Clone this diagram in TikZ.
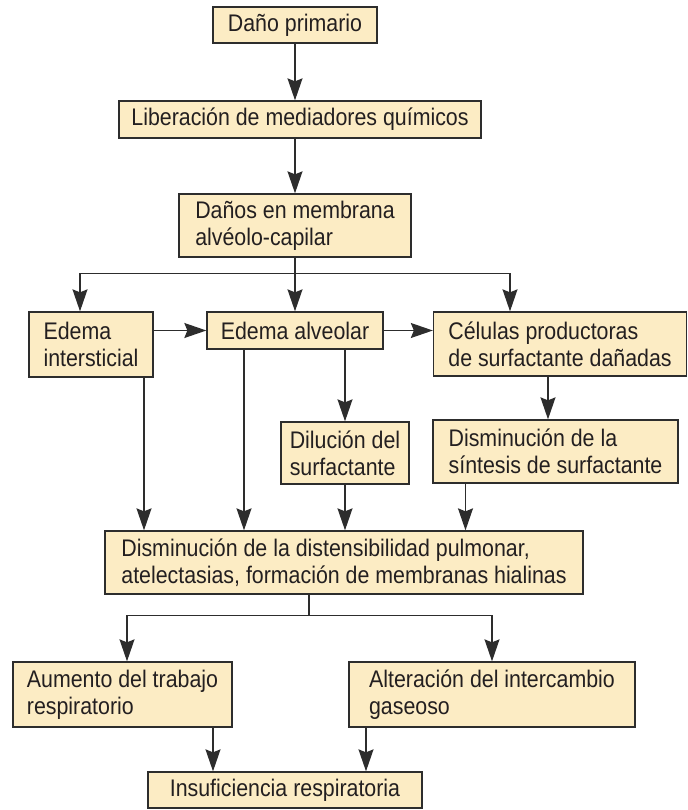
\documentclass[tikz,border=0pt]{standalone}
\usepackage{fontspec}
\setmainfont[FakeStretch=0.89]{Liberation Sans}
\usetikzlibrary{arrows.meta, calc}
\definecolor{flowbeige}{RGB}{252,236,196}
\definecolor{flowedge}{RGB}{45,45,45}
\definecolor{flowtext}{RGB}{35,31,32}
\tikzset{
    stepbox/.style={rectangle, draw=flowedge, fill=flowbeige, line width=1.3bp, align=left, inner sep=0pt, text=flowtext, font=\fontsize{24bp}{27bp}\selectfont},
    link/.style={line width=1.3bp, color=flowedge},
    arr/.style={-{Stealth[length=22bp, width=15bp, inset=3bp]}, line width=1.3bp, color=flowedge}
}

\begin{document}
\begin{tikzpicture}[x=1bp, y=-1bp]
    \useasboundingbox (0,0) rectangle (688,810);

    \node[stepbox, minimum width=164bp, minimum height=36bp] (prim) at (295,25) {Daño primario};
    \node[stepbox, minimum width=362bp, minimum height=37bp] (lib) at (300,119.5) {Liberación de mediadores químicos};
    \node[stepbox, minimum width=232bp, minimum height=63bp] (memb) at (295,225.5) {Daños en membrana\\alvéolo-capilar};
    \node[stepbox, minimum width=124bp, minimum height=65bp] (intst) at (91,344.5) {Edema\\intersticial};
    \node[stepbox, minimum width=176bp, minimum height=37bp] (alv) at (295,330.5) {Edema alveolar};
    \node[stepbox, minimum width=253bp, minimum height=64bp] (cel) at (560,344) {Células productoras\\de surfactante dañadas};
    \node[stepbox, minimum width=128bp, minimum height=62bp] (dil) at (345,453) {Dilución del\\surfactante};
    \node[stepbox, minimum width=245bp, minimum height=63bp] (sint) at (555.5,451.5) {Disminución de la\\síntesis de surfactante};
    \node[stepbox, minimum width=478bp, minimum height=63bp] (dist) at (344,562.5) {Disminución de la distensibilidad pulmonar,\\atelectasias, formación de membranas hialinas};
    \node[stepbox, minimum width=219bp, minimum height=65bp] (trab) at (122.5,694.5) {Aumento del trabajo\\respiratorio};
    \node[stepbox, minimum width=286bp, minimum height=65bp] (gas) at (492,694.5) {Alteración del intercambio\\gaseoso};
    \node[stepbox, minimum width=274bp, minimum height=36bp] (insuf) at (285,790) {Insuficiencia respiratoria};

    \draw[arr] (prim.south) -- (prim.south |- lib.north);
    \draw[arr] (lib.south -| memb.north) -- (memb.north);

    \coordinate (split1) at ($(memb.south)+(0,16)$);
    \draw[link] (memb.south) -- (split1);
    \draw[arr] (split1) -| ([xshift=-11bp]intst.north);
    \draw[arr] (split1) -- (alv.north);
    \draw[arr] (split1) -| ([xshift=-50bp]cel.north);

    \draw[arr] (intst.east |- alv.west) -- (alv.west);
    \draw[arr] (alv.east) -- (alv.east -| cel.west);

    \draw[arr] (alv.south -| dil.north) -- (dil.north);
    \draw[arr] ([xshift=-12bp]cel.south) -- ([xshift=-12bp]cel.south |- sint.north);

    \draw[arr] ([xshift=53bp]intst.south) -- ([xshift=53bp]intst.south |- dist.north);
    \draw[arr] ([xshift=-51bp]alv.south) -- ([xshift=-51bp]alv.south |- dist.north);
    \draw[arr] (dil.south) -- (dil.south |- dist.north);
    \draw[arr] ([xshift=-90bp]sint.south) -- ([xshift=-90bp]sint.south |- dist.north);

    \coordinate (split2) at ($([xshift=-35bp]dist.south)+(0,21)$);
    \draw[link] ([xshift=-35bp]dist.south) -- (split2);
    \draw[arr] (split2) -| ([xshift=4.5bp]trab.north);
    \draw[arr] (split2) -| (gas.north);

    \draw[arr] ([xshift=90.5bp]trab.south) -- ([xshift=90.5bp]trab.south |- insuf.north);
    \draw[arr] ([xshift=-126bp]gas.south) -- ([xshift=-126bp]gas.south |- insuf.north);
\end{tikzpicture}
\end{document}
